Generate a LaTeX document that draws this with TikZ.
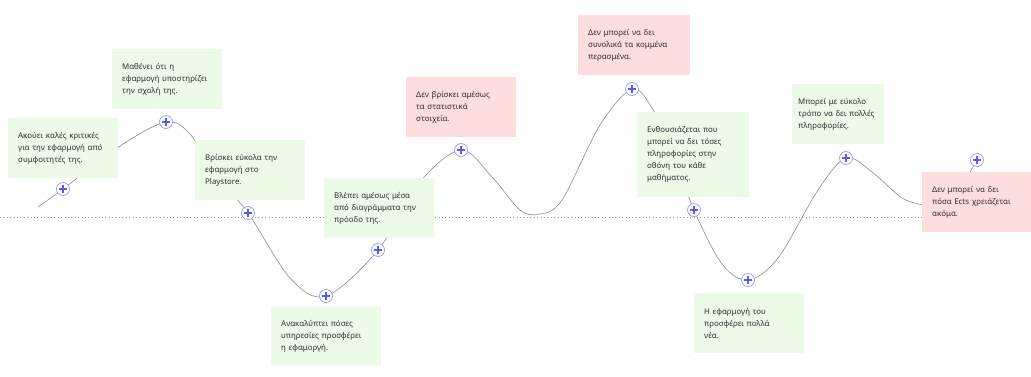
\documentclass[tikz,border=0pt]{standalone}
\usepackage{fontspec}
\setmainfont{Noto Sans}
\definecolor{gfill}{RGB}{235,251,231}
\definecolor{pfill}{RGB}{253,221,221}
\definecolor{txt}{RGB}{45,45,45}
\definecolor{curvec}{RGB}{140,140,140}
\definecolor{plusring}{RGB}{150,150,255}
\definecolor{plusbar}{RGB}{90,90,240}
\definecolor{dotc}{RGB}{150,150,150}
\tikzset{
  card/.style={anchor=north west, inner xsep=10pt, inner ysep=0pt, align=left,
    font=\fontsize{7.9}{12}\selectfont, text=txt, minimum height=60pt},
  gcard/.style={card, fill=gfill},
  pcard/.style={card, fill=pfill},
  pluspt/.style={circle, draw=plusring, fill=white, line width=0.7pt, minimum size=13pt, inner sep=0pt,
    path picture={\draw[plusbar, line width=1.1pt] ([xshift=-4pt]path picture bounding box.center) -- ([xshift=4pt]path picture bounding box.center);
                  \draw[plusbar, line width=1.1pt] ([yshift=-4pt]path picture bounding box.center) -- ([yshift=4pt]path picture bounding box.center);}},
  journey/.style={draw=curvec, line width=0.6pt},
  baseline/.style={draw=dotc, line width=0.8pt, dash pattern=on 0.8pt off 2.6pt}
}
\begin{document}
\begin{tikzpicture}[x=1pt,y=-1pt]
\useasboundingbox[fill=white] (0,0) rectangle (1031,376);
% plus positions
\coordinate (c1) at (63,189);
\coordinate (c2) at (166,122);
\coordinate (c3) at (248,213);
\coordinate (c4) at (326,296);
\coordinate (c5) at (378,250);
\coordinate (c6) at (461,150);
\coordinate (c7) at (632,89);
\coordinate (c8) at (694,210);
\coordinate (c9) at (748,280);
\coordinate (c10) at (846,158);
\coordinate (c11) at (977,160);
\coordinate (s0) at (38,207);
\coordinate (e0) at (924,205);
\coordinate (lb) at (0,217);
\coordinate (rb) at (1031,217);
% dotted baseline
\draw[baseline] (lb) -- (rb);
% journey curve
\draw[journey] plot[smooth, tension=0.55] coordinates {
 (s0) (c1.center) (120,146) (c2.center) (190,134) (212,170) (c3.center) (290,278) (c4.center) (c5.center)
 (420,182) (c6.center) (492,177) (520,210) (540,214) (562,200) (600,125) (c7.center) (652,108) (672,150)
 (c8.center) (722,264) (c9.center) (778,258) (818,190) (c10.center) (872,172) (902,198) (e0)};
% boxes
\node[gcard, minimum width=110pt, text width=90pt] (b1) at (8,118) {Ακούει καλές κριτικές\\για την εφαρμογή από\\συμφοιτητές της.};
\node[gcard, minimum width=110pt, text width=90pt] (b2) at (112,49) {Μαθένει ότι η\\εφαρμογή υποστηρίζει\\την σχολή της.};
\node[gcard, minimum width=110pt, text width=90pt] (b3) at (195,140) {Βρίσκει εύκολα την\\εφαρμογή στο\\Playstore.};
\node[gcard, minimum width=110pt, text width=90pt] (b4) at (271,306) {Ανακαλύπτει πόσες\\υπηρεσίες προσφέρει\\η εφαμοργή.};
\node[gcard, minimum width=110pt, text width=90pt] (b5) at (324,178) {Βλέπει αμέσως μέσα\\από διαγράμματα την\\πρόοδο της.};
\node[pcard, minimum width=110pt, text width=90pt] (b6) at (406,77) {Δεν βρίσκει αμέσως\\τα στατιστικά\\στοιχεία.};
\node[pcard, minimum width=112pt, text width=92pt] (b7) at (578,15) {Δεν μπορεί να δει\\συνολικά τα κομμένα\\περασμένα.};
\node[gcard, minimum width=112pt, text width=92pt, minimum height=85pt] (b8) at (637,112) {Ενθουσιάζεται που\\μπορεί να δει τόσες\\πληροφορίες στην\\οθόνη του κάθε\\μαθήματος.};
\node[gcard, minimum width=110pt, text width=90pt] (b9) at (694,293) {Η εφαρμογή του\\προσφέρει πολλά\\νέα.};
\node[gcard, text width=80pt, inner xsep=6pt] (b10) at (792,84) {Μπορεί με εύκολο\\τρόπο να δει πολλές\\πληροφορίες.};
\node[pcard, minimum width=110pt, text width=90pt] (b11) at (922,172) {Δεν μπορεί να δει\\πόσα Ects χρειάζεται\\ακόμα.};
% plus markers
\foreach \i in {1,...,11} {\node[pluspt] (p\i) at (c\i) {};}
\draw[journey] (p11) -- (b11.north west -| 970,0);
\end{tikzpicture}
\end{document}
